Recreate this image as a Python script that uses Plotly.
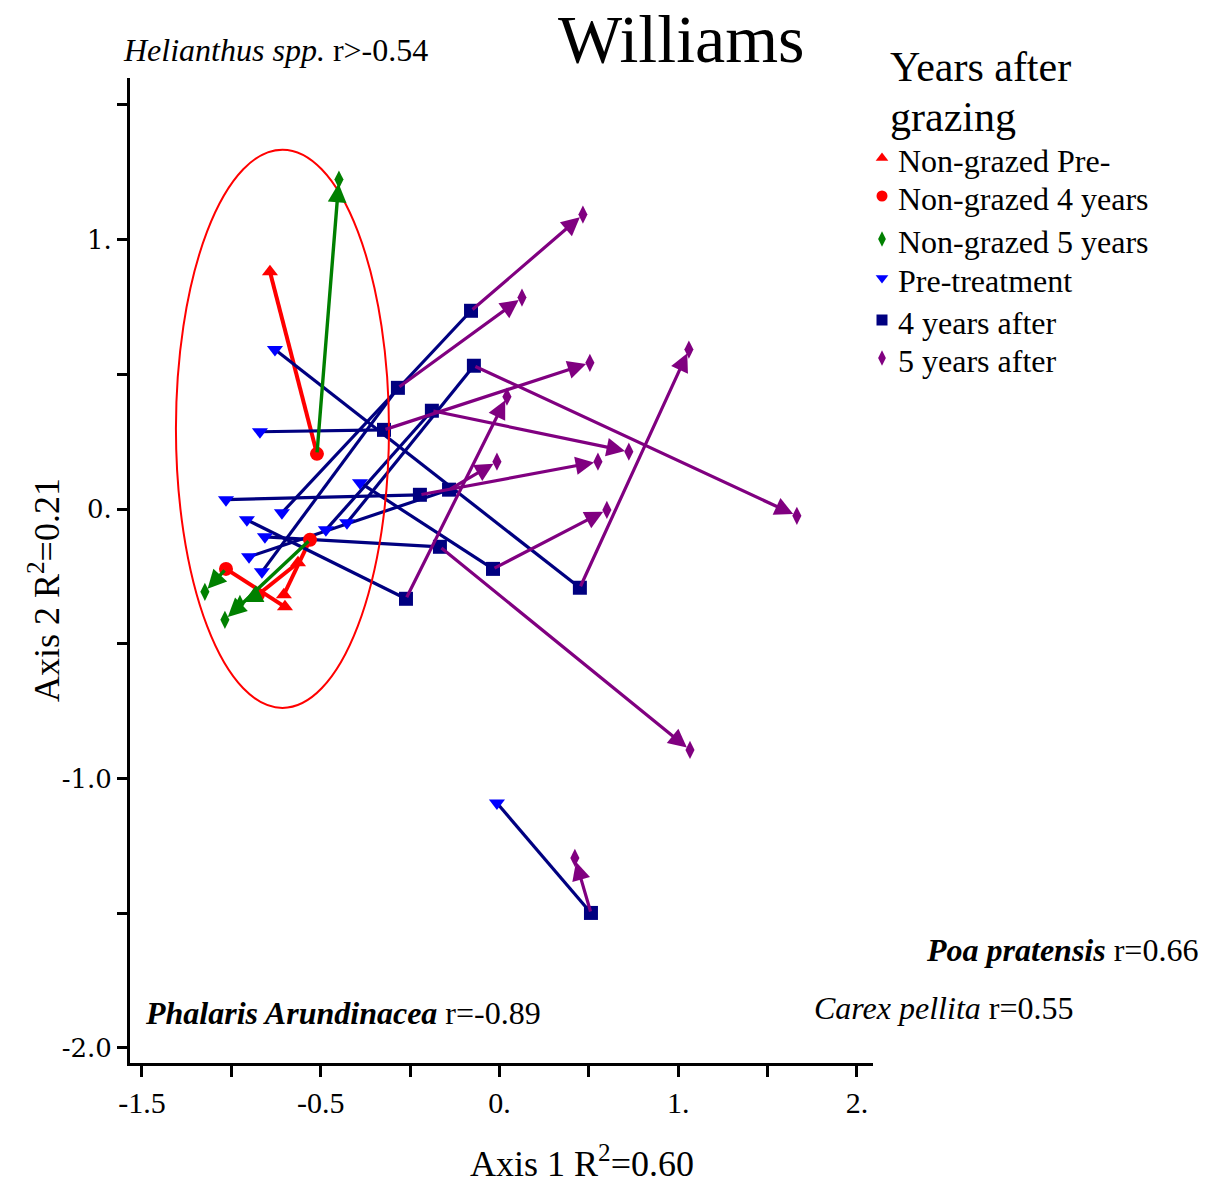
import plotly.graph_objects as go

# ---------------- data (Axis 1, Axis 2 scores) ----------------
# Non-grazed plots: pre-treatment -> 4 years -> 5 years
NG_PRE_X = [-0.784, -0.627, -0.706, -0.700]
NG_PRE_Y = [0.881, -0.199, -0.318, -0.363]
NG_4Y_X = [-0.521, -0.851, -0.560, -1.030]
NG_4Y_Y = [0.205, -0.318, -0.114, -0.222]
NG_5Y_X = [-0.398, -0.952, -1.036, -1.148]
NG_5Y_Y = [1.223, -0.352, -0.411, -0.307]

# Grazed plots: pre-treatment -> 4 years after -> 5 years after
PRE_X = [-0.756, -0.840, -1.030, -0.717, -0.913, -0.280, -0.353, -0.471, -0.812, -0.901, -0.829, 0.486]
PRE_Y = [0.592, 0.287, 0.035, -0.014, -0.040, 0.098, -0.051, -0.077, -0.103, -0.177, -0.233, -1.091]
Y4_X = [0.950, -0.146, 0.055, 0.341, -0.023, 0.464, 0.357, 0.122, 0.167, 0.218, -0.068, 1.012]
Y4_Y = [-0.292, 0.294, 0.053, 0.736, -0.333, -0.222, 0.532, 0.365, -0.140, 0.072, 0.450, -1.499]
Y5_X = [1.560, 1.006, 1.051, 0.967, 0.542, 1.101, 2.164, 1.224, 1.566, 0.486, 0.626, 0.922]
Y5_Y = [0.592, 0.543, 0.176, 1.093, 0.417, -0.003, -0.025, 0.213, -0.894, 0.176, 0.785, -1.295]

# Ellipse enclosing the non-grazed group (data extents)
ELLIPSE_X = [-1.310, -0.118]
ELLIPSE_Y = [-0.738, 1.334]

# Axis ticks (labels as printed on the original)
X_TICKS = [-1.5, -0.5, 0.5, 1.5, 2.5]
X_LABELS = ["-1.5", "-0.5", "0.", "1.", "2."]
X_MINOR = [-1.0, 0.0, 1.0, 2.0]
Y_TICKS = [1.0, 0.0, -1.0, -2.0]
Y_LABELS = ["1.", "0.", "-1.0", "-2.0"]
Y_MINOR = [1.5, 0.5, -0.5, -1.5]

LEGEND_NAMES = ["Non-grazed Pre-", "Non-grazed 4 years", "Non-grazed 5 years",
                "Pre-treatment", "4 years after", "5 years after"]

RED, GREEN, BLUE, NAVY, PURPLE = "#FF0000", "#008000", "#0000FF", "#000080", "#800080"
FONT = "Liberation Serif"
W, H = 1206, 1186

# legend layout (pixels)
LEG_MARK_X = 882
LEG_TEXT_X = 896
LEG_ROWS = [161, 199, 242, 281, 323, 361]


def segs(x0, y0, x1, y1):
    xs, ys = [], []
    for a, b, c, d in zip(x0, y0, x1, y1):
        xs += [a, c, None]
        ys += [b, d, None]
    return xs, ys


fig = go.Figure()

# connecting lines (first step)
rx, ry = segs(NG_PRE_X, NG_PRE_Y, NG_4Y_X, NG_4Y_Y)
fig.add_trace(go.Scatter(x=rx, y=ry, mode="lines", line=dict(color=RED, width=4),
                         showlegend=False, hoverinfo="skip"))
nx, ny = segs(PRE_X, PRE_Y, Y4_X, Y4_Y)
fig.add_trace(go.Scatter(x=nx, y=ny, mode="lines", line=dict(color=NAVY, width=3.2),
                         showlegend=False, hoverinfo="skip"))

# markers
marker_sets = [
    (NG_PRE_X, NG_PRE_Y, "triangle-up", RED, 14),
    (NG_4Y_X, NG_4Y_Y, "circle", RED, 14),
    (NG_5Y_X, NG_5Y_Y, "diamond-tall", GREEN, 13),
    (PRE_X, PRE_Y, "triangle-down", BLUE, 14),
    (Y4_X, Y4_Y, "square", NAVY, 14),
    (Y5_X, Y5_Y, "diamond-tall", PURPLE, 13),
]
for (xs, ys, sym, col, sz), name in zip(marker_sets, LEGEND_NAMES):
    fig.add_trace(go.Scatter(x=xs, y=ys, mode="markers", name=name, showlegend=False,
                             marker=dict(symbol=sym, color=col, size=sz, line=dict(width=0))))

# legend keys (drawn on a pixel-space overlay axis)
for (xs, ys, sym, col, sz), name, row in zip(marker_sets, LEGEND_NAMES, LEG_ROWS):
    fig.add_trace(go.Scatter(x=[LEG_MARK_X], y=[row - 3], mode="markers", xaxis="x2", yaxis="y2",
                             showlegend=False, hoverinfo="skip",
                             marker=dict(symbol=sym, color=col, size=11, line=dict(width=0))))

# second step with arrowheads
annotations = []
for x0, y0, x1, y1 in zip(NG_4Y_X, NG_4Y_Y, NG_5Y_X, NG_5Y_Y):
    annotations.append(dict(x=x1, y=y1, ax=x0, ay=y0, xref="x", yref="y", axref="x", ayref="y",
                            text="", showarrow=True, arrowhead=2, arrowsize=1.1, arrowwidth=3.4,
                            arrowcolor=GREEN, standoff=4))
for x0, y0, x1, y1 in zip(Y4_X, Y4_Y, Y5_X, Y5_Y):
    annotations.append(dict(x=x1, y=y1, ax=x0, ay=y0, xref="x", yref="y", axref="x", ayref="y",
                            text="", showarrow=True, arrowhead=2, arrowsize=1.15, arrowwidth=3.2,
                            arrowcolor=PURPLE, standoff=4))


def px(x):
    return x / W


def py(y):
    return 1 - y / H


def note(text, x, y, size, xanchor="left", yanchor="middle", textangle=0):
    annotations.append(dict(text=text, x=px(x), y=py(y), xref="paper", yref="paper",
                            xanchor=xanchor, yanchor=yanchor, showarrow=False, textangle=textangle,
                            font=dict(family=FONT, size=size, color="black")))


note("Williams", 681, 39, 68, xanchor="center")
note("<i>Helianthus spp.</i> r>-0.54", 121, 50, 32)
note("<b><i>Phalaris Arundinacea</i></b> r=-0.89", 143, 1013, 32)
note("<b><i>Poa pratensis</i></b> r=0.66", 924, 950, 32)
note("<i>Carex pellita</i> r=0.55", 812, 1008, 32)
note("Years after", 888, 67, 42)
note("grazing", 888, 117, 42)
for name, row in zip(LEGEND_NAMES, LEG_ROWS):
    note(name, LEG_TEXT_X, row, 32)
note("Axis 1 R<sup>2</sup>=0.60", 582, 1161, 36, xanchor="center")
note("Axis 2 R<sup>2</sup>=0.21", 45, 590, 36, xanchor="center", textangle=-90)

fig.update_layout(
    width=W, height=H,
    margin=dict(l=0, r=0, t=0, b=0, autoexpand=False),
    paper_bgcolor="white", plot_bgcolor="rgba(0,0,0,0)",
    font=dict(family=FONT, color="black"),
    xaxis=dict(domain=[130 / W, 873 / W], range=[-1.567, 2.59], showgrid=False, zeroline=False,
               showline=True, linecolor="black", linewidth=3,
               ticks="outside", ticklen=11, tickwidth=3, tickcolor="black",
               tickmode="array", tickvals=X_TICKS, ticktext=X_LABELS,
               minor=dict(tickmode="array", tickvals=X_MINOR, ticks="outside", ticklen=11,
                          tickwidth=3, tickcolor="black", showgrid=False),
               tickfont=dict(family=FONT, size=30, color="black")),
    yaxis=dict(domain=[1 - 1063 / H, 1 - 78 / H], range=[-2.056, 1.60], showgrid=False, zeroline=False,
               showline=True, linecolor="black", linewidth=3,
               ticks="outside", ticklen=10, tickwidth=3, tickcolor="black",
               tickmode="array", tickvals=Y_TICKS, ticktext=Y_LABELS,
               minor=dict(tickmode="array", tickvals=Y_MINOR, ticks="outside", ticklen=10,
                          tickwidth=3, tickcolor="black", showgrid=False),
               tickfont=dict(family="DejaVu Serif", size=26, color="black")),
    xaxis2=dict(domain=[0, 1], range=[0, W], visible=False, anchor="y2", fixedrange=True),
    yaxis2=dict(domain=[0, 1], range=[H, 0], visible=False, anchor="x2", fixedrange=True),
    shapes=[dict(type="circle", xref="x", yref="y",
                 x0=ELLIPSE_X[0], x1=ELLIPSE_X[1], y0=ELLIPSE_Y[0], y1=ELLIPSE_Y[1],
                 line=dict(color=RED, width=2), fillcolor="rgba(0,0,0,0)", layer="above")],
    annotations=annotations,
    showlegend=False,
)

fig.write_html("out.html")
